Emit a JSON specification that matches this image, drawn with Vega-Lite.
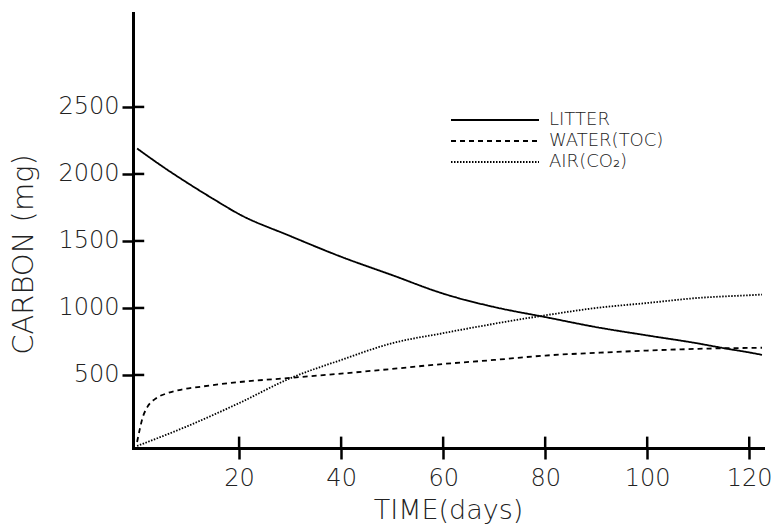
{
  "$schema": "https://vega.github.io/schema/vega-lite/v6.json",
  "width": 630,
  "height": 435,
  "autosize": {"type": "none"},
  "padding": {"left": 133, "top": 13, "right": 17, "bottom": 78},
  "background": "white",
  "config": {"view": {"stroke": null}, "font": "DejaVu Sans"},
  "datasets": {
    "curves": [
      {"day": 0, "carbon": 2190, "series": "LITTER"},
      {"day": 5, "carbon": 2055, "series": "LITTER"},
      {"day": 10, "carbon": 1930, "series": "LITTER"},
      {"day": 15, "carbon": 1812, "series": "LITTER"},
      {"day": 20, "carbon": 1700, "series": "LITTER"},
      {"day": 30, "carbon": 1537, "series": "LITTER"},
      {"day": 40, "carbon": 1382, "series": "LITTER"},
      {"day": 50, "carbon": 1245, "series": "LITTER"},
      {"day": 60, "carbon": 1107, "series": "LITTER"},
      {"day": 70, "carbon": 1007, "series": "LITTER"},
      {"day": 80, "carbon": 932, "series": "LITTER"},
      {"day": 90, "carbon": 857, "series": "LITTER"},
      {"day": 100, "carbon": 795, "series": "LITTER"},
      {"day": 110, "carbon": 735, "series": "LITTER"},
      {"day": 115, "carbon": 700, "series": "LITTER"},
      {"day": 120, "carbon": 668, "series": "LITTER"},
      {"day": 122.5, "carbon": 650, "series": "LITTER"},
      {"day": 0, "carbon": 0, "series": "WATER(TOC)"},
      {"day": 0.5, "carbon": 90, "series": "WATER(TOC)"},
      {"day": 1, "carbon": 170, "series": "WATER(TOC)"},
      {"day": 2, "carbon": 260, "series": "WATER(TOC)"},
      {"day": 3.5, "carbon": 320, "series": "WATER(TOC)"},
      {"day": 6, "carbon": 365, "series": "WATER(TOC)"},
      {"day": 9, "carbon": 393, "series": "WATER(TOC)"},
      {"day": 13, "carbon": 415, "series": "WATER(TOC)"},
      {"day": 20, "carbon": 447, "series": "WATER(TOC)"},
      {"day": 30, "carbon": 478, "series": "WATER(TOC)"},
      {"day": 40, "carbon": 510, "series": "WATER(TOC)"},
      {"day": 50, "carbon": 545, "series": "WATER(TOC)"},
      {"day": 60, "carbon": 582, "series": "WATER(TOC)"},
      {"day": 70, "carbon": 612, "series": "WATER(TOC)"},
      {"day": 80, "carbon": 645, "series": "WATER(TOC)"},
      {"day": 90, "carbon": 665, "series": "WATER(TOC)"},
      {"day": 100, "carbon": 682, "series": "WATER(TOC)"},
      {"day": 110, "carbon": 695, "series": "WATER(TOC)"},
      {"day": 120, "carbon": 702, "series": "WATER(TOC)"},
      {"day": 122.5, "carbon": 703, "series": "WATER(TOC)"},
      {"day": 0, "carbon": -30, "series": "AIR(CO₂)"},
      {"day": 10, "carbon": 120, "series": "AIR(CO₂)"},
      {"day": 20, "carbon": 290, "series": "AIR(CO₂)"},
      {"day": 30, "carbon": 475, "series": "AIR(CO₂)"},
      {"day": 40, "carbon": 612, "series": "AIR(CO₂)"},
      {"day": 50, "carbon": 737, "series": "AIR(CO₂)"},
      {"day": 60, "carbon": 812, "series": "AIR(CO₂)"},
      {"day": 70, "carbon": 882, "series": "AIR(CO₂)"},
      {"day": 80, "carbon": 945, "series": "AIR(CO₂)"},
      {"day": 90, "carbon": 1000, "series": "AIR(CO₂)"},
      {"day": 100, "carbon": 1037, "series": "AIR(CO₂)"},
      {"day": 110, "carbon": 1075, "series": "AIR(CO₂)"},
      {"day": 120, "carbon": 1095, "series": "AIR(CO₂)"},
      {"day": 122.5, "carbon": 1100, "series": "AIR(CO₂)"}
    ],
    "xticks": [{"t": 20}, {"t": 40}, {"t": 60}, {"t": 80}, {"t": 100}, {"t": 120}],
    "yticks": [{"v": 500}, {"v": 1000}, {"v": 1500}, {"v": 2000}, {"v": 2500}]
  },
  "layer": [
    {
      "data": {"name": "curves"},
      "mark": {"type": "line", "interpolate": "monotone", "color": "black", "strokeWidth": 1.8},
      "encoding": {
        "x": {
          "field": "day", "type": "quantitative",
          "scale": {"domain": [-0.8, 122.7], "nice": false, "zero": false},
          "axis": {
            "values": [20, 40, 60, 80, 100, 120],
            "format": "d",
            "grid": false,
            "domainColor": "black", "domainWidth": 3, "domainCap": "square",
            "tickColor": "black", "tickWidth": 2.5, "tickSize": 11,
            "labelFont": "DejaVu Sans", "labelFontSize": 24, "labelFontWeight": 200, "labelColor": "#222", "labelPadding": 7,
            "labelFlush": false, "labelOverlap": false,
            "title": "TIME(days)", "titleFont": "DejaVu Sans", "titleFontSize": 27, "titleFontWeight": 200,
            "titleColor": "#222", "titleBaseline": "alphabetic", "titleY": 70
          }
        },
        "y": {
          "field": "carbon", "type": "quantitative",
          "scale": {"domain": [-45, 3201], "nice": false, "zero": false},
          "axis": {
            "values": [500, 1000, 1500, 2000, 2500],
            "format": "d",
            "grid": false,
            "domainColor": "black", "domainWidth": 3, "domainCap": "square",
            "tickColor": "black", "tickWidth": 2.5, "tickSize": 11,
            "labelFont": "DejaVu Sans", "labelFontSize": 24, "labelFontWeight": 200, "labelColor": "#222", "labelPadding": 3,
            "labelFlush": false, "labelOverlap": false,
            "title": "CARBON (mg)", "titleFont": "DejaVu Sans", "titleFontSize": 29, "titleFontWeight": 200,
            "titleColor": "#222", "titleAngle": 270, "titleAlign": "center", "titleBaseline": "middle",
            "titleX": -110, "titleY": 241
          }
        },
        "strokeDash": {
          "field": "series", "type": "nominal",
          "scale": {"domain": ["LITTER", "WATER(TOC)", "AIR(CO₂)"], "range": [[1, 0], [5, 4], [1.5, 1.5]]},
          "legend": {
            "title": null, "orient": "none", "legendX": 383, "legendY": 95,
            "symbolType": "M-7,0H1", "symbolSize": 484, "symbolStrokeColor": "black", "symbolStrokeWidth": 1.8,
            "labelFont": "DejaVu Sans", "labelFontSize": 18, "labelFontWeight": 200, "labelColor": "#222", "labelOffset": 9,
            "rowPadding": -1
          }
        }
      }
    },
    {
      "data": {"name": "xticks"},
      "mark": {"type": "rule", "color": "black", "strokeWidth": 2.5},
      "encoding": {
        "x": {"field": "t", "type": "quantitative"},
        "y": {"datum": -45},
        "y2": {"datum": 40}
      }
    },
    {
      "data": {"name": "yticks"},
      "mark": {"type": "rule", "color": "black", "strokeWidth": 2.5},
      "encoding": {
        "y": {"field": "v", "type": "quantitative"},
        "x": {"datum": -0.8},
        "x2": {"datum": 1.4}
      }
    }
  ]
}
